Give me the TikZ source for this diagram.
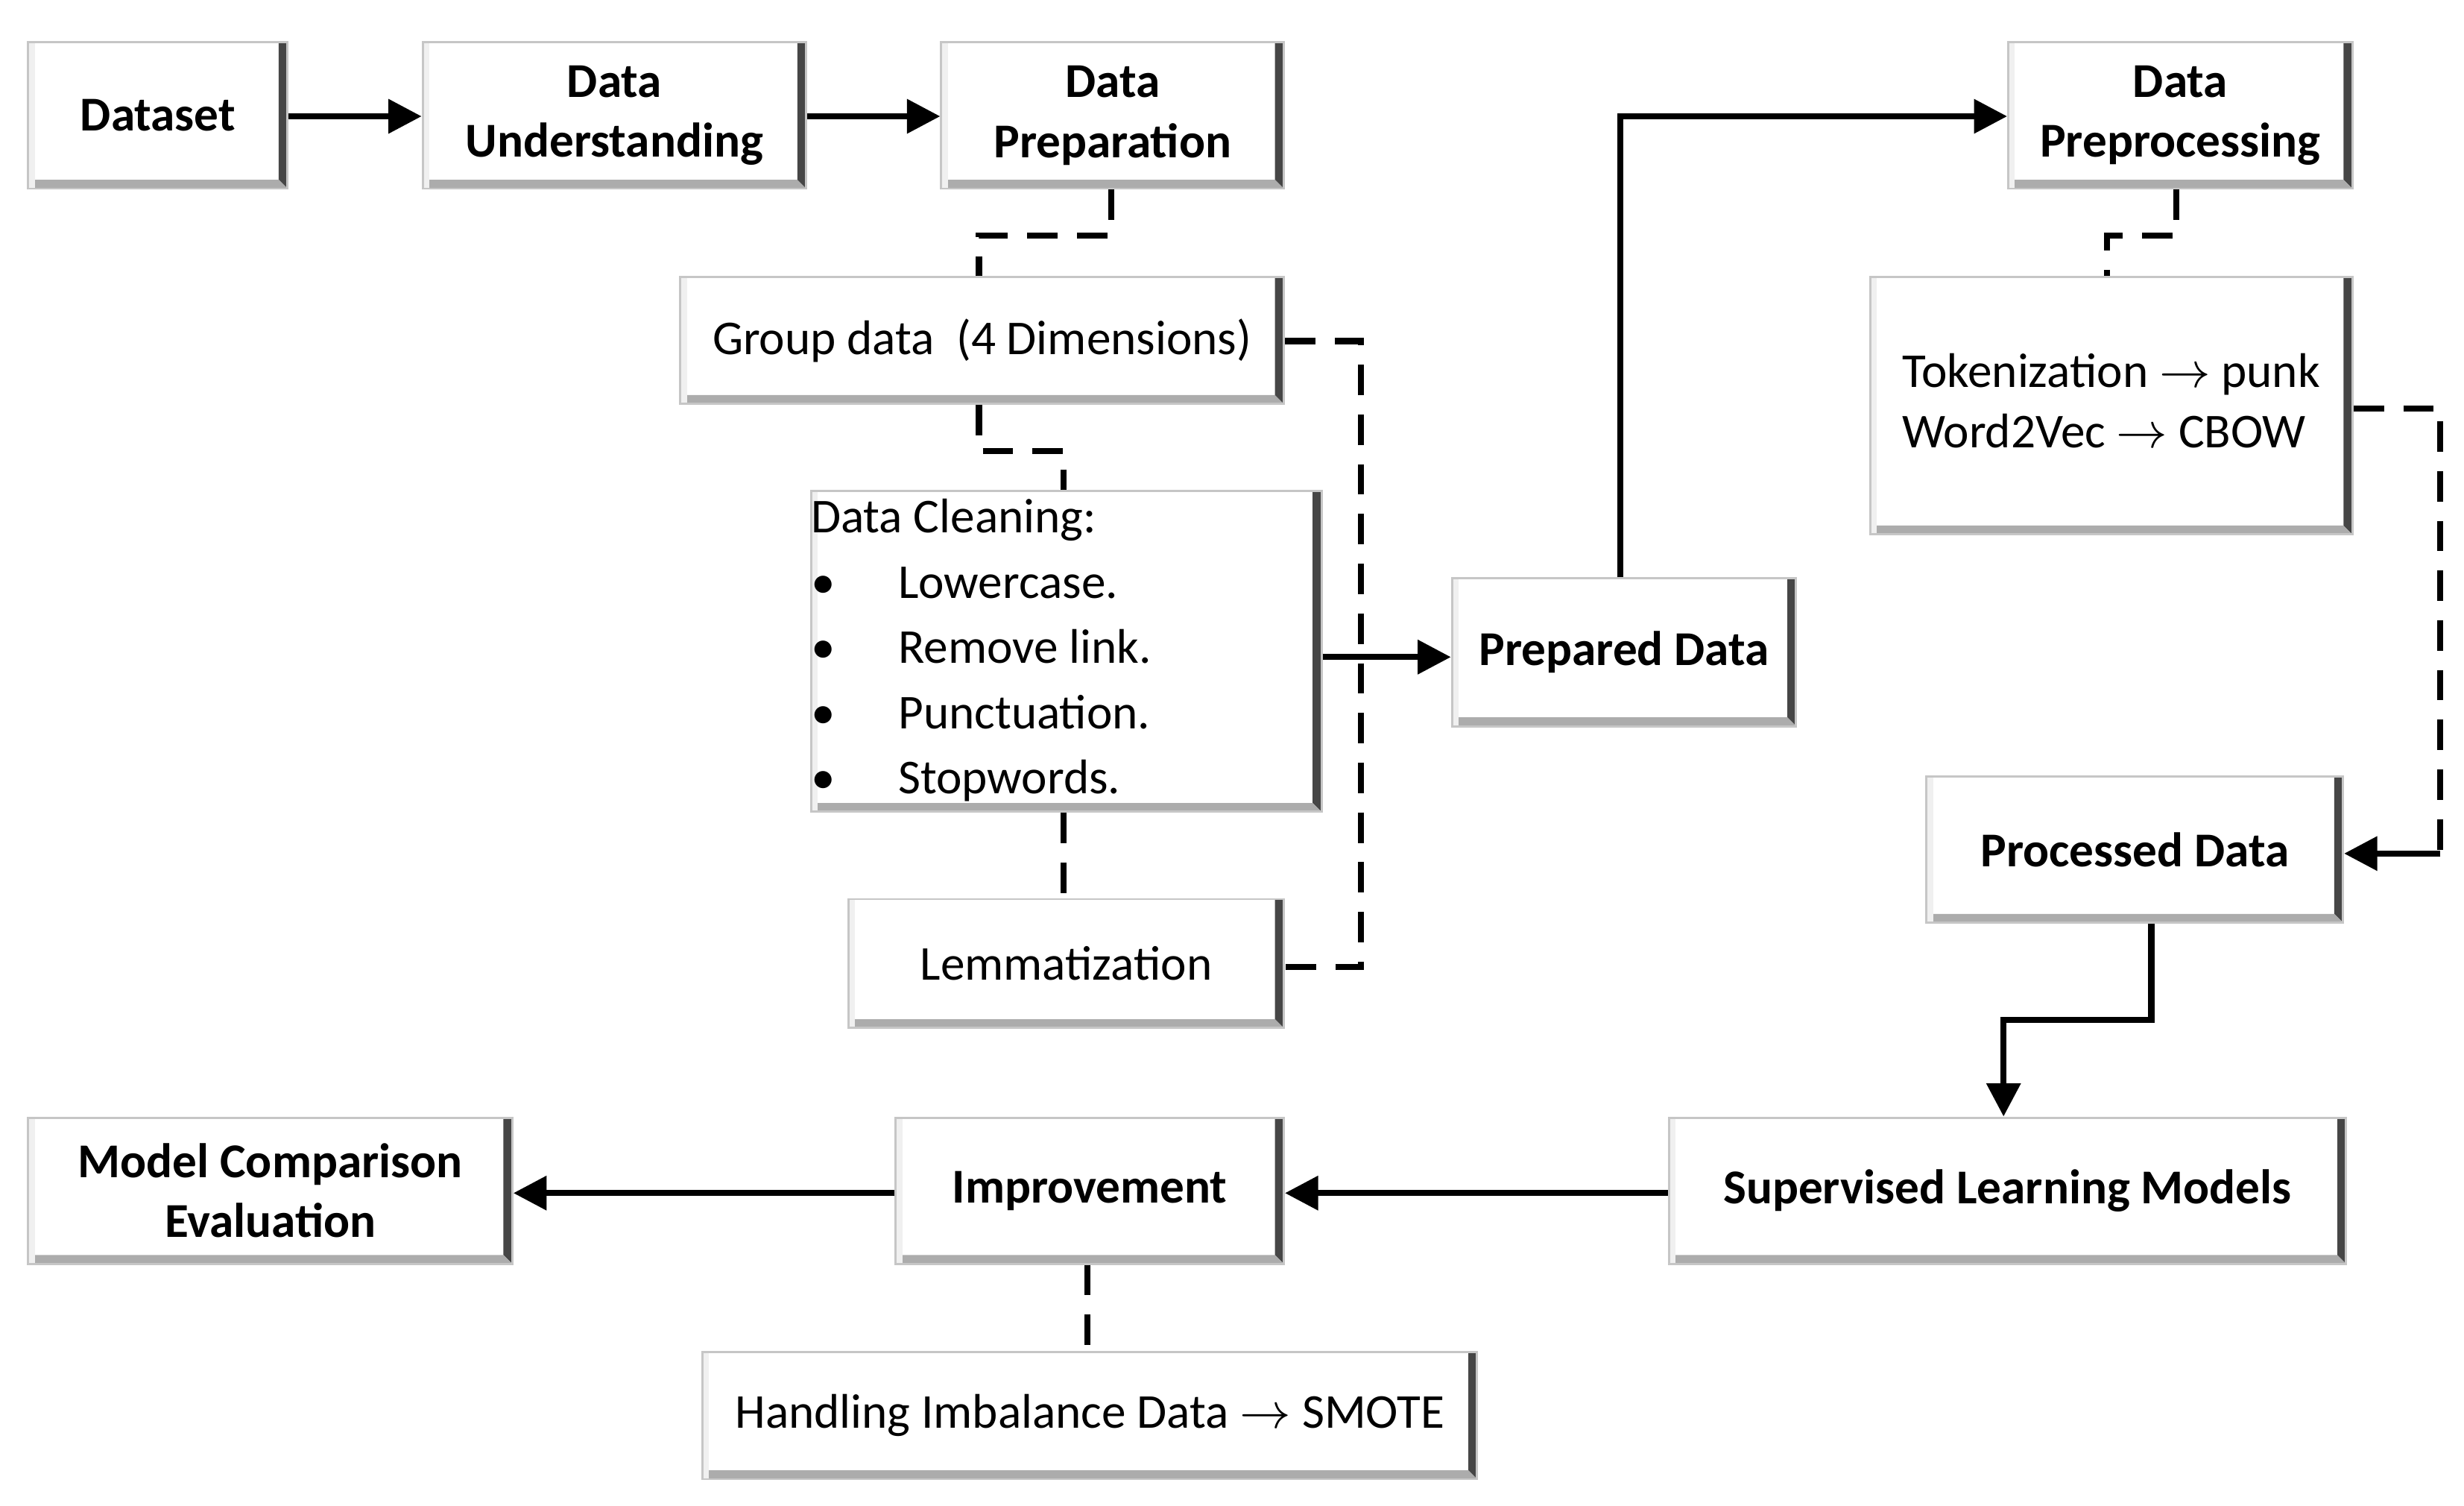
\documentclass[tikz,border=0pt]{standalone}
\usepackage{fontspec}
\setmainfont{Carlito}
\usetikzlibrary{arrows.meta}
\begin{document}
\begin{tikzpicture}[x=0.01cm,y=-0.01cm,
 box/.style={draw=gray!45,line width=0.4pt,fill=white,inner sep=0pt,
   font=\fontsize{8.8}{10.8}\selectfont,align=center,
   path picture={
     \fill[gray!55!black] ([xshift=-1.6pt]path picture bounding box.north east) -- (path picture bounding box.north east) -- (path picture bounding box.south east) -- ([xshift=-1.6pt,yshift=1.6pt]path picture bounding box.south east) -- cycle;
     \fill[gray!65] (path picture bounding box.south west) -- (path picture bounding box.south east) -- ([xshift=-1.6pt,yshift=1.6pt]path picture bounding box.south east) -- ([yshift=1.6pt]path picture bounding box.south west) -- cycle;
     \fill[gray!12] (path picture bounding box.south west) -- (path picture bounding box.north west) -- ([xshift=1.2pt]path picture bounding box.north west) -- ([xshift=1.2pt]path picture bounding box.south west) -- cycle;}},
 bbox/.style={box,font=\fontsize{8.8}{10.8}\selectfont\bfseries},
 sz/.style n args={2}{minimum width={(#1)*0.01cm},minimum height={(#2)*0.01cm}},
 arr/.style={line width=1.1pt,-{Triangle[length=6pt,width=6pt]}},
 sol/.style={line width=1.1pt},
 dsh/.style={line width=1.1pt,dash pattern=on 5.5pt off 3.5pt}]
\useasboundingbox (0,0) rectangle (1568,958);
\node[bbox,sz={165}{93}] (ds) at (100.5,73.5) {Dataset};
\node[bbox,sz={244}{93}] (du) at (391,73.5) {Data\\Understanding};
\node[bbox,sz={218}{93}] (dp) at (708,73.5) {Data\\Preparation};
\node[box,sz={384}{81}] (gd) at (625,216.5) {Group data~~(4 Dimensions)};
\node[box,sz={277}{203}] (dc) at (678.5,414.5) {\begin{tabular}{@{}l@{}}Data Cleaning:\\[1pt]
\textbullet\hspace{1.3em}Lowercase.\\[1pt]
\textbullet\hspace{1.3em}Remove link.\\[1pt]
\textbullet\hspace{1.3em}Punctuation.\\[1pt]
\textbullet\hspace{1.3em}Stopwords.\end{tabular}\hspace{3.5em}};
\node[box,sz={277}{82}] (lm) at (678.5,613) {Lemmatization};
\node[bbox,sz={219}{94}] (pd) at (1033.5,415) {Prepared Data};
\node[bbox,sz={219}{93}] (pp) at (1387.5,73.5) {Data\\Preprocessing};
\node[box,sz={307}{164}] (tk) at (1343.5,258) {\begin{tabular}{@{}l@{}}Tokenization $\rightarrow$ punk\\Word2Vec $\rightarrow$ CBOW\end{tabular}};
\node[bbox,sz={265}{93}] (prd) at (1358.5,540.5) {Processed Data};
\node[bbox,sz={431}{93}] (sl) at (1277.5,757.5) {Supervised Learning Models};
\node[bbox,sz={247}{93}] (im) at (693.5,757.5) {Improvement};
\node[bbox,sz={308}{93}] (mc) at (172,757.5) {Model Comparison\\Evaluation};
\node[box,sz={493}{81}] (hi) at (693.5,900.5) {Handling Imbalance Data $\rightarrow$ SMOTE};
\coordinate (j1) at (866,418);
\draw[arr] (ds.east |- 0,74) -- (du.west |- 0,74);
\draw[arr] (du.east |- 0,74) -- (dp.west |- 0,74);
\draw[dsh] (dp.south -| 707,0) -- (707,150) -- (623,150) -- (gd.north -| 623,0);
\draw[dsh] (gd.south -| 623,0) -- (623,287) -- (677,287) -- (dc.north -| 677,0);
\draw[dsh] (dc.south -| 677,0) -- (lm.north -| 677,0);
\draw[dsh] (gd.east |- 0,217) -- (866,217) -- (866,615) -- (lm.east |- 0,615);
\draw[sol] (dc.east |- j1) -- (j1);
\draw[arr] (j1) -- (pd.west |- j1);
\draw[arr] (pd.north -| 1031,0) -- (1031,74) -- (pp.west |- 0,74);
\draw[dsh] (pp.south -| 1385,0) -- (1385,150) -- (1341,150) -- (tk.north -| 1341,0);
\draw[dsh] (tk.east |- 0,260) -- (1553,260) -- (1553,543);
\draw[arr] (1553,543) -- (prd.east |- 0,543);
\draw[arr] (prd.south -| 1369,0) -- (1369,649) -- (1275,649) -- (sl.north -| 1275,0);
\draw[arr] (sl.west |- 0,759) -- (im.east |- 0,759);
\draw[arr] (im.west |- 0,759) -- (mc.east |- 0,759);
\draw[dsh] (im.south -| 692,0) -- (hi.north -| 692,0);
\end{tikzpicture}
\end{document}
